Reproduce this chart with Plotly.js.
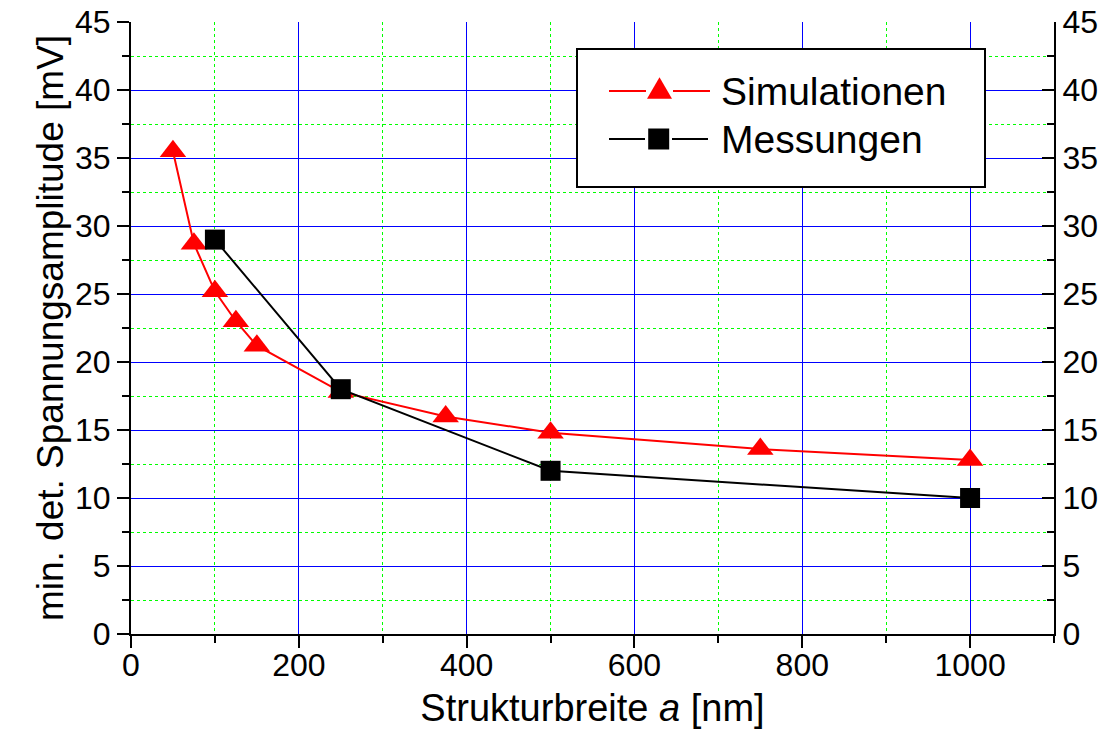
<!DOCTYPE html>
<html>
<head>
<meta charset="utf-8">
<script src="https://cdn.plot.ly/plotly-3.0.1.min.js"></script>
<style>html,body{margin:0;padding:0;background:#fff;}#chart{width:1109px;height:729px;}</style>
</head>
<body>
<div id="chart"></div>
<script>
const simX = [50, 75, 100, 125, 150, 250, 375, 500, 750, 1000];
const simY = [35.5, 28.7, 25.2, 23.0, 21.2, 17.8, 16.0, 14.8, 13.6, 12.8];
const messX = [100, 250, 500, 1000];
const messY = [29.0, 18.0, 12.0, 10.0];
const simName = 'Simulationen';
const messName = 'Messungen';
const xTitle = 'Strukturbreite <i>a</i> [nm]';
const yTitle = 'min. det. Spannungsamplitude [mV]';

const FONT = 'Liberation Sans, Arial, sans-serif';
const W = 1109, H = 729;
const M = {l: 131, r: 55, t: 22, b: 95};
const PW = W - M.l - M.r, PH = H - M.t - M.b;
const px = v => (v - M.l) / PW;       // page pixel -> paper x
const py = v => (H - M.b - v) / PH;   // page pixel -> paper y

const traces = [
  {x: simX, y: simY, name: simName, type: 'scatter', mode: 'lines+markers',
   line: {color: '#ff0000', width: 2},
   marker: {symbol: 'triangle-up', size: 23, color: '#ff0000', line: {width: 0}}},
  {x: messX, y: messY, name: messName, type: 'scatter', mode: 'lines+markers',
   line: {color: '#000000', width: 2},
   marker: {symbol: 'square', size: 20, color: '#000000', line: {width: 0}}},
  {x: messX, y: messY, yaxis: 'y2', type: 'scatter', mode: 'none', showlegend: false, hoverinfo: 'skip'}
];

const axCommon = {
  showline: true, linecolor: '#000', linewidth: 2,
  tickcolor: '#000', tickwidth: 2, ticklen: 12,
  tickfont: {family: FONT, size: 32, color: '#000'},
  zeroline: false
};

// manual legend (box, line samples, symbols, labels)
const legendShapes = [
  {type: 'rect', xref: 'paper', yref: 'paper', x0: px(577), x1: px(985), y0: py(187), y1: py(49),
   line: {color: '#000', width: 2}, fillcolor: '#fff'},
  {type: 'line', xref: 'paper', yref: 'paper', x0: px(609), x1: px(646), y0: py(91), y1: py(91), line: {color: '#ff0000', width: 2}},
  {type: 'line', xref: 'paper', yref: 'paper', x0: px(673), x1: px(710), y0: py(91), y1: py(91), line: {color: '#ff0000', width: 2}},
  {type: 'path', xref: 'paper', yref: 'paper', xsizemode: 'pixel', ysizemode: 'pixel',
   xanchor: px(659.5), yanchor: py(91), path: 'M-12.5,-7.7 L12.5,-7.7 L0,13.7 Z',
   fillcolor: '#ff0000', line: {width: 0}},
  {type: 'line', xref: 'paper', yref: 'paper', x0: px(609), x1: px(645), y0: py(139), y1: py(139), line: {color: '#000', width: 2}},
  {type: 'line', xref: 'paper', yref: 'paper', x0: px(672), x1: px(708), y0: py(139), y1: py(139), line: {color: '#000', width: 2}},
  {type: 'rect', xref: 'paper', yref: 'paper', xsizemode: 'pixel', ysizemode: 'pixel',
   xanchor: px(658.7), yanchor: py(139), x0: -10.5, x1: 10.5, y0: -10.5, y1: 10.5,
   fillcolor: '#000', line: {width: 0}}
];
legendShapes.forEach(s => s.layer = 'above');

const legendAnn = [
  {xref: 'paper', yref: 'paper', x: px(719), y: py(91), xanchor: 'left', yanchor: 'middle',
   text: simName, showarrow: false, font: {family: FONT, size: 39, color: '#000'}},
  {xref: 'paper', yref: 'paper', x: px(719), y: py(139), xanchor: 'left', yanchor: 'middle',
   text: messName, showarrow: false, font: {family: FONT, size: 39, color: '#000'}}
];

const layout = {
  width: W, height: H,
  margin: M,
  paper_bgcolor: '#fff', plot_bgcolor: '#fff',
  font: {family: FONT, color: '#000'},
  showlegend: false,
  shapes: legendShapes,
  annotations: legendAnn,
  xaxis: Object.assign({}, axCommon, {
    range: [0, 1100], tick0: 0, dtick: 200, ticks: 'outside', ticklabelstandoff: -10,
    showgrid: true, gridcolor: '#0000ff', gridwidth: 1,
    minor: {dtick: 100, ticks: 'outside', ticklen: 7, tickwidth: 2, tickcolor: '#000',
            showgrid: true, gridcolor: '#00ff00', gridwidth: 1, griddash: 'dot'},
    title: {text: xTitle, font: {family: FONT, size: 38, color: '#000'}, standoff: 12}
  }),
  yaxis: Object.assign({}, axCommon, {
    range: [0, 45], tick0: 0, dtick: 5, ticks: 'outside',
    showgrid: true, gridcolor: '#0000ff', gridwidth: 1,
    minor: {dtick: 2.5, ticks: 'outside', ticklen: 7, tickwidth: 2, tickcolor: '#000',
            showgrid: true, gridcolor: '#00ff00', gridwidth: 1, griddash: 'dot'},
    title: {text: yTitle, font: {family: FONT, size: 37, color: '#000'}, standoff: 0}
  }),
  yaxis2: Object.assign({}, axCommon, {
    overlaying: 'y', side: 'right', anchor: 'x',
    range: [0, 45], tick0: 0, dtick: 5, ticks: 'inside',
    showgrid: false,
    minor: {dtick: 2.5, ticks: 'inside', ticklen: 7, tickwidth: 2, tickcolor: '#000'}
  })
};

Plotly.newPlot('chart', traces, layout, {displayModeBar: false, staticPlot: true});
</script>
</body>
</html>
